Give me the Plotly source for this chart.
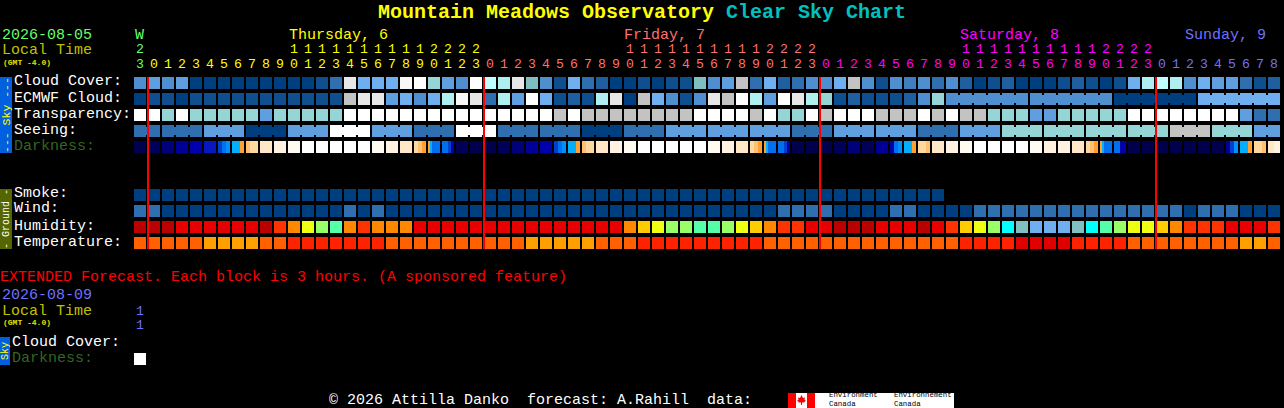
import plotly.graph_objects as go

# ---------- data (levels) ----------
hours = [23,
         0,1,2,3,4,5,6,7,8,9,10,11,12,13,14,15,16,17,18,19,20,21,22,23,
         0,1,2,3,4,5,6,7,8,9,10,11,12,13,14,15,16,17,18,19,20,21,22,23,
         0,1,2,3,4,5,6,7,8,9,10,11,12,13,14,15,16,17,18,19,20,21,22,23,
         0,1,2,3,4,5,6,7,8]
day_index = [0,
             1,1,1,1,1,1,1,1,1,1,1,1,1,1,1,1,1,1,1,1,1,1,1,1,
             2,2,2,2,2,2,2,2,2,2,2,2,2,2,2,2,2,2,2,2,2,2,2,2,
             3,3,3,3,3,3,3,3,3,3,3,3,3,3,3,3,3,3,3,3,3,3,3,3,
             4,4,4,4,4,4,4,4,4]

cloud_cover = [5,6,5,6,0,0,0,0,0,0,
               0,0,0,1,3,13,7,7,7,14,
               15,9,6,5,15,11,10,13,8,5,
               1,7,3,2,0,0,1,0,1,1,
               8,5,6,12,3,7,2,3,5,5,
               7,12,5,1,5,4,5,3,5,2,
               0,1,2,0,0,0,1,2,1,0,
               1,7,10,11,10,5,7,6,6,3,
               1,2]
ecmwf_cloud = [0,1,1,0,1,1,1,1,1,1,
               1,1,1,1,1,12,13,13,6,7,
               5,7,10,14,13,3,10,6,15,7,
               1,2,1,10,13,0,12,7,5,1,
               5,13,12,15,10,6,15,13,10,9,
               1,2,1,1,1,2,5,9,5,5,
               5,5,5,5,5,5,5,5,5,5,
               0,0,0,0,0,0,7,7,7,7,
               7,7]
transparency = [15,15,9,15,9,9,9,9,9,6,
                9,9,9,9,9,15,15,15,15,15,
                15,15,15,15,15,15,15,15,15,15,
                12,15,12,12,12,12,12,12,12,12,
                15,15,15,15,12,15,9,9,15,12,
                15,15,15,12,12,12,15,12,15,12,
                12,9,9,9,6,6,9,9,9,9,
                9,15,15,15,15,15,15,15,15,6,
                3,3]
seeing = [3,3,3,3,3,6,6,6,0,0,
          0,6,6,6,15,15,15,6,6,6,
          3,3,3,15,15,15,3,3,3,3,
          3,3,0,0,0,3,3,3,6,6,
          6,6,6,6,6,6,6,3,3,3,
          6,6,6,6,6,6,3,3,3,6,
          6,6,9,9,9,9,9,9,9,9,
          9,9,9,9,12,12,12,9,9,9,
          6,6]
smoke = [0,0,0,0,0,0,0,0,0,0,
         0,0,0,0,0,0,0,0,0,0,
         0,0,0,0,0,0,0,0,0,0,
         0,0,0,0,0,0,0,0,0,0,
         0,0,0,0,0,0,0,0,0,0,
         0,0,0,0,0,0,0,0]
wind = [3,3,0,0,0,0,0,0,0,0,
        0,0,0,0,0,3,0,3,0,0,
        0,0,0,0,0,0,0,0,0,0,
        0,0,0,0,0,0,0,0,0,0,
        0,0,0,0,0,0,3,3,3,3,
        0,0,0,0,3,3,0,0,0,0,
        3,3,3,3,3,3,3,3,3,3,
        3,3,3,3,3,0,3,3,3,0,
        0,0]
humidity = [0,0,0,1,1,1,1,1,1,0,
            2,3,5,6,7,3,2,3,3,3,
            1,1,1,1,1,1,1,1,1,1,
            1,1,1,1,1,3,4,5,6,6,
            7,7,6,5,4,3,2,2,1,1,
            0,0,0,1,1,1,0,1,2,4,
            5,6,8,9,10,10,10,9,8,7,
            6,5,5,4,3,2,2,2,1,1,
            1,2]
temperature = [2,2,2,2,2,3,3,3,3,2,
               2,1,1,1,1,1,1,1,2,2,
               2,2,2,2,2,2,2,2,3,3,
               3,3,3,2,2,2,1,1,1,1,
               1,1,1,1,1,2,2,2,2,2,
               2,2,2,2,2,2,2,2,2,1,
               1,1,1,0,0,0,0,1,1,1,
               1,2,2,2,2,2,2,2,2,3,
               3,2]
# darkness: each cell is one or more equal-width bands of level
darkness = [[0],[1],[2],[3],[4],[5],[6,7,8],[9,9,10],[11,12,12],[13],
            [14],[15],[16],[16],[16],[16],[16],[15],[14],[13],
            [12,11,10],[10,9,7,7,7,7],[7,7,6,4],[1],[0],[0],[1],[2],[3],[4],
            [6,7,8],[9,9,10],[11,12,12],[13],[14],[15],[16],[16],[16],[16],
            [16],[15],[14],[13],[12,11,10],[10,9,7,7,7,7],[7,7,6,4],[0],[0],[0],
            [1],[2],[1],[3],[4,7,8],[9,9,10],[12,12,11],[13],[14],[15],
            [16],[16],[16],[16],[15],[14],[14],[13],[12,11,10],[10,9,7,7,7,7],
            [7,7,4,4],[0],[0],[0],[0],[0],[0],[0],[3,6,8],[9,9,10],
            [12,12,11],[13,14]]
# groups of columns drawn joined together
seeing_groups = [(0,1),(2,4),(5,7),(8,10),(11,13),(14,16),(17,19),(20,22),(23,25),(26,28),
                 (29,31),(32,34),(35,37),(38,40),(41,43),(44,46),(47,49),(50,52),(53,55),(56,58),
                 (59,61),(62,64),(65,67),(68,70),(71,73),(74,76),(77,79),(80,81)]
ecmwf_groups = [(58,63),(64,69),(70,75),(76,81)]
midnight_cols = [0, 24, 48, 72]
extended_darkness = [16]
extended_hour_tens = ["1"]
extended_hour_units = ["1"]

row_labels_sky = ["Cloud Cover:", "ECMWF Cloud:", "Transparency:", "Seeing:"]
row_labels_ground = ["Smoke:", "Wind:", "Humidity:", "Temperature:"]

# ---------- palettes ----------
SKY = ["#003f7f","#0f4f8f","#1f5f9f","#2f6faf","#3f7fbf","#4f8fcf","#5f9fdf","#6fafef",
       "#7fbfbf","#95d5d5","#afefef","#bfffff","#c3c3c3","#e7e7e7","#f7f7f7","#ffffff"]
HUM = ["#bb0000","#e60000","#ff3300","#ff8800","#ffcc00","#eeff11","#99ff66","#55ffaa",
       "#00ffff","#80c0c0","#6fafef"]
TMP = ["#e00000","#ff2200","#ff6000","#ffa000"]
DRK = ["#00004c","#000058","#00007a","#000098","#0000ac","#0818c0","#0040d0","#0070f0",
       "#0090ff","#00b0ff","#ffa030","#ffc070","#ffd8a0","#ffe8c8","#fff2e0","#fffaf2","#ffffff"]
DAY_COL = ["#66ff66", "#ffff00", "#ff7070", "#ff00ff", "#7070ff"]

W, H = 1284, 408
PITCH_X, PITCH_Y = 14.0, 16.0
X0, Y0 = 140.0, 83.0          # pixel centre of column 0 / row 0
CELL = 12.0
MONO = "Liberation Mono"

fig = go.Figure()

def row(values, palette, r):
    n = len(values)
    fig.add_trace(go.Bar(x=list(range(n)), y=[CELL/PITCH_Y]*n, base=[r-CELL/PITCH_Y/2]*n,
                         width=CELL/PITCH_X, marker=dict(color=[palette[v] for v in values], line_width=0),
                         hoverinfo="skip", showlegend=False))

def joints(values, groups, palette, r):
    xs, cs = [], []
    for a, b in groups:
        for c in range(a, b):
            xs.append(c+0.5); cs.append(palette[values[c]])
    n = len(xs)
    fig.add_trace(go.Bar(x=xs, y=[8/PITCH_Y]*n, base=[r-4/PITCH_Y]*n, width=2/PITCH_X,
                         marker=dict(color=cs, line_width=0), hoverinfo="skip", showlegend=False))

def banded(cells, r, start=0):
    xs, ws, cs = [], [], []
    for i, bands in enumerate(cells):
        w = CELL/PITCH_X/len(bands)
        for j, b in enumerate(bands):
            xs.append(start+i-CELL/PITCH_X/2+w*(j+0.5)); ws.append(w); cs.append(DRK[b])
    n = len(xs)
    fig.add_trace(go.Bar(x=xs, y=[CELL/PITCH_Y]*n, base=[r-CELL/PITCH_Y/2]*n, width=ws,
                         marker=dict(color=cs, line_width=0), hoverinfo="skip", showlegend=False))

row(cloud_cover, SKY, 0)
row(ecmwf_cloud, SKY, 1); joints(ecmwf_cloud, ecmwf_groups, SKY, 1)
row(transparency, SKY, 2)
row(seeing, SKY, 3); joints(seeing, seeing_groups, SKY, 3)
banded(darkness, 4)
row(smoke, SKY, 7)
row(wind, SKY, 8)
row(humidity, HUM, 9)
row(temperature, TMP, 10)
banded([extended_darkness], (359-Y0)/PITCH_Y)

# midnight markers
fig.add_trace(go.Bar(x=[c+(148-X0)/PITCH_X for c in midnight_cols], y=[(249-77)/PITCH_Y]*4,
                     base=[(77-Y0)/PITCH_Y]*4, width=2/PITCH_X,
                     marker=dict(color="#ff0000", line_width=0), hoverinfo="skip", showlegend=False))

# hour labels
unit_y = (65-Y0)/PITCH_Y
tens_y = (50-Y0)/PITCH_Y
DIGIT = 13.2
fig.add_trace(go.Scatter(x=list(range(len(hours))), y=[unit_y]*len(hours), mode="text",
                         text=[str(h % 10) for h in hours],
                         textfont=dict(family=MONO, size=DIGIT, color=[DAY_COL[d] for d in day_index]),
                         hoverinfo="skip", showlegend=False))
tc = [i for i, h in enumerate(hours) if h >= 10 and day_index[i] != 4 or i == 0]
fig.add_trace(go.Scatter(x=tc, y=[tens_y]*len(tc), mode="text",
                         text=[str(hours[i]//10) for i in tc],
                         textfont=dict(family=MONO, size=DIGIT, color=[DAY_COL[day_index[i]] for i in tc]),
                         hoverinfo="skip", showlegend=False))

def px_x(p): return p/W
def px_y(p): return 1-p/H

ann = []
def text(x, y, s, color, size=15, bold=False, family=MONO, angle=0, anchor="left"):
    ann.append(dict(x=px_x(x), y=px_y(y), xref="paper", yref="paper", text=("<b>%s</b>" % s) if bold else s,
                    showarrow=False, xanchor=anchor, yanchor="middle", borderpad=0, borderwidth=0,
                    textangle=angle, font=dict(family=family, size=size, color=color)))

text(378, 12, "Mountain Meadows Observatory", "#ffff00", 20, True)
text(726, 12, "Clear Sky Chart", "#00c0c0", 20, True)
text(2, 35, "2026-08-05", DAY_COL[0])
text(2, 50, "Local Time", "#c0c000")
text(3, 62, "(GMT -4.0)", "#e0e000", 8, True)
text(135, 35, "W", DAY_COL[0])
text(289, 35, "Thursday, 6", DAY_COL[1])
text(624, 35, "Friday, 7", DAY_COL[2])
text(960, 35, "Saturday, 8", DAY_COL[3])
text(1185, 35, "Sunday, 9", DAY_COL[4])
for i, s in enumerate(row_labels_sky):
    text(14, 82+16*i, s, "#ffffff")
text(14, 146, "Darkness:", "#336622")
for s, y in zip(row_labels_ground, [193, 209, 226, 242]):
    text(14, y, s, "#ffffff")
text(0, 277, "EXTENDED Forecast. Each block is 3 hours. (A sponsored feature)", "#ff0000")
text(2, 295, "2026-08-09", DAY_COL[4])
text(2, 311, "Local Time", "#c0c000")
text(3, 322, "(GMT -4.0)", "#e0e000", 8, True)
text(140, 311, extended_hour_tens[0], DAY_COL[4], size=DIGIT, anchor="center")
text(140, 325, extended_hour_units[0], DAY_COL[4], size=DIGIT, anchor="center")
text(12, 342, "Cloud Cover:", "#ffffff")
text(12, 358, "Darkness:", "#336622")
text(329, 400, "© 2026 Attilla Danko  forecast: A.Rahill  data:", "#ffffff")
text(6, 115, "--- Sky ---", "#ffff00", 11.5, angle=-90, anchor="center")
text(6, 219, "- Ground -", "#ffffff", 10, angle=-90, anchor="center")
text(5, 351, "Sky", "#ffff00", 10, angle=-90, anchor="center")
text(829, 395.4, "Environment", "#000000", 7.4)
text(829, 403.8, "Canada", "#000000", 7.4)
text(894, 395.4, "Environnement", "#000000", 7.4)
text(894, 403.8, "Canada", "#000000", 7.4)

def rect(x0, y0, x1, y1, color):
    return dict(type="rect", xref="paper", yref="paper", x0=px_x(x0), x1=px_x(x1), y0=px_y(y0), y1=px_y(y1),
                fillcolor=color, line_width=0, layer="below")

leaf = [(801.5,395),(803,398),(805,397.5),(804.5,400),(806,400.5),(804,402.5),(802,402.5),(802,405),(801,405),
        (801,402.5),(799,402.5),(797,400.5),(798.5,400),(798,397.5),(800,398)]
leaf_path = "M " + " L ".join("%.5f,%.5f" % (px_x(a), px_y(b)) for a, b in leaf) + " Z"

shapes = [rect(0, 77, 12, 153, "#0060e0"), rect(0, 189, 12, 249, "#556600"), rect(0, 337, 10, 365, "#0060e0"),
          rect(788, 393, 954, 408, "#ffffff"), rect(788, 393, 796, 408, "#ff0000"), rect(807, 393, 815, 408, "#ff0000"),
          dict(type="path", xref="paper", yref="paper", path=leaf_path, fillcolor="#ff0000", line_width=0, layer="below")]

fig.update_layout(width=W, height=H, margin=dict(l=0, r=0, t=0, b=0), autosize=False,
                  paper_bgcolor="#000000", plot_bgcolor="#000000", barmode="overlay",
                  bargap=0, showlegend=False, annotations=ann, shapes=shapes,
                  xaxis=dict(range=[-X0/PITCH_X, (W-X0)/PITCH_X], visible=False, fixedrange=True),
                  yaxis=dict(range=[(H-Y0)/PITCH_Y, -Y0/PITCH_Y], visible=False, fixedrange=True))

fig.write_html("out.html", config=dict(displayModeBar=False, staticPlot=True),
               post_script="document.body.style.margin='0';document.body.style.background='#000';")
